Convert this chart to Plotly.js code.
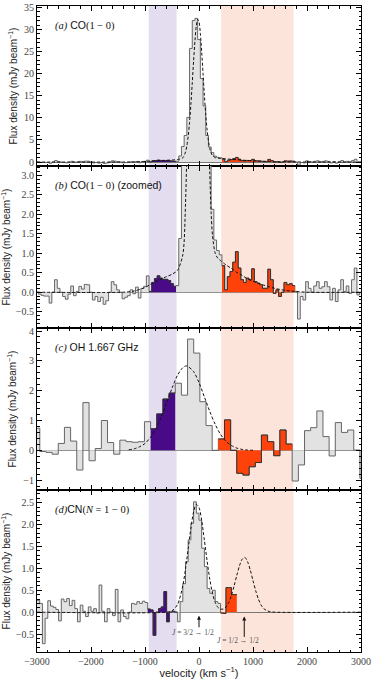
<!DOCTYPE html>
<html>
<head>
<meta charset="utf-8">
<script src="https://cdn.plot.ly/plotly-3.0.1.min.js"></script>
<style>
  body { margin: 0; background: #fff; }
  #graph { width: 374px; height: 679px; }
</style>
</head>
<body>
<div id="graph"></div>
<script>
// velocity windows used for the blue / red shading
var blueBand = [-930, -415];
var redBand = [410, 1750];

// CO(1-0): 50 km/s channels from -3000 to 3000
var coStart = -3000, coStep = 50;
var coFlux = [0.0, -0.05, -0.08, -0.1, -0.1, -0.28, 0.0, 0.32, 0.1, 0.0,
  -0.11, -0.18, -0.05, 0.16, -0.09, 0.02, 0.15, 0.08, 0.2, 0.19,
  0.0, -0.2, -0.11, -0.24, -0.13, -0.31, -0.22, 0.0, 0.27, 0.19,
  0.06, 0.0, -0.17, -0.13, -0.09, 0.06, -0.04, 0.13, -0.15, 0.1,
  0.15, 0.42, 0.02, 0.25, 0.35, 0.42, 0.36, 0.33, 0.33, 0.3,
  0.22, 0.15, 0.17, 1.38, 3.5, 6.0, 10.1, 25.7, 32.0, 32.5,
  27.7, 18.9, 12.7, 6.0, 3.4, 2.13, 1.34, 1.07, 0.96, 0.68,
  0.06, 0.4, 0.53, 0.77, 1.04, 0.62, 0.32, 0.25, 0.36, 0.32,
  0.6, 0.27, 0.23, 0.19, 0.1, 0.1, 0.59, 0.32, -0.03, 0.06,
  -0.11, 0.0, 0.25, 0.19, 0.22, 0.17, 0.02, -0.69, -0.11, -0.2,
  0.27, 0.1, 0.0, 0.16, 0.27, 0.1, 0.14, 0.27, 0.14, -0.2,
  0.1, -0.24, 0.06, 0.32, 0.02, 0.16, -0.03, 0.32, 0.62, -0.07,
  0.0];
var coFitVel = [-3000, -1400, -1200, -1000, -900, -800, -700, -600, -500, -400,
  -300, -250, -225, -200, -175, -150, -125, -100, -75, -50, -25, 0, 25, 50, 75,
  100, 125, 150, 175, 200, 225, 250, 300, 350, 400, 500, 600, 700, 800, 900,
  1000, 1100, 1200, 1300, 1400, 1500, 1700, 2000, 3000];
var coFitFlux = [0, 0, 0.03, 0.12, 0.2, 0.27, 0.34, 0.4, 0.46, 0.56,
  0.96, 2.27, 3.68, 5.87, 9.0, 13.06, 17.9, 22.9, 27.4, 30.8, 32.3, 31.7, 29.1, 24.9, 20.0,
  15.1, 10.7, 7.27, 4.74, 3.06, 2.03, 1.46, 1.0, 0.87, 0.81, 0.70, 0.61, 0.51, 0.43, 0.34,
  0.28, 0.23, 0.18, 0.14, 0.10, 0.07, 0.03, 0, 0];

// OH 1.667 GHz: 114 km/s channels
var ohStart = -3005, ohStep = 114;
var ohFlux = [0.74, -0.04, -0.07, -0.13, 0.23, 0.77, 0.31, -0.66, 1.6, -0.35,
  0.06, 1.0, 0.26, -0.13, 0.34, 0.29, 0.27, 0.29, 0.96, 0.72,
  1.22, 1.72, 1.92, 2.25, 1.85, 3.73, 3.26, 1.63, 0.83, 0.0,
  0.38, 1.02, 0.0, -0.77, -0.83, -0.55, -0.41, 0.51, 0.29, -0.18,
  0.68, 0.21, -1.03, -0.49, 0.66, 0.76, 1.32, 0.46, -0.19, 0.93,
  0.6, 0.68, 0.01, -0.94];
var ohFitVel = [-1300, -1200, -1100, -1000, -900, -800, -700, -600, -500, -400, -300, -230,
  -100, 0, 100, 200, 300, 400, 500, 600, 700, 800, 900, 1000];
var ohFitFlux = [0.02, 0.05, 0.12, 0.23, 0.43, 0.72, 1.12, 1.59, 2.08, 2.51, 2.77, 2.83,
  2.64, 2.27, 1.79, 1.30, 0.87, 0.53, 0.30, 0.16, 0.075, 0.03, 0.01, 0.0];

// CN(N=1-0): 50 km/s channels, band ends near 700 km/s
var cnStart = -2975, cnStep = 50;
var cnFlux = [0.27, 0.2, -0.72, -0.14, 0.26, 0.14, 0.11, 0.06, -0.2, 0.3,
  0.24, 0.31, 0.15, 0.27, 0.08, -0.22, 0.16, 0.02, -0.1, 0.12,
  0.02, 0.08, -0.02, 0.62, 0.02, -0.22, 0.08, 0.0, -0.08, 0.52,
  -0.22, 0.05, -0.1, -0.15, 0.0, 0.2, 0.18, 0.24, 0.2, 0.25,
  0.22, 0.07, 0.05, -0.53, 0.0, 0.08, 0.12, 0.47, -0.22, 0.0,
  0.02, 0.0, -0.22, 0.24, 0.65, 1.15, 1.65, 2.03, 2.52, 2.26,
  2.1, 1.46, 1.04, 0.54, 0.43, 0.5, 0.24, 0.2, -0.02, -0.03,
  0.56, 0.56, 0.4, 0.4];
var cnFitVel = [-3000, -600, -500, -400, -300, -250, -200, -150, -100, -50,
  0, 50, 100, 150, 200, 250, 300, 350, 400, 450,
  500, 550, 600, 650, 700, 750, 800, 850, 900, 950,
  1000, 1050, 1100, 1150, 1200, 1250, 1300, 1400, 3000];
var cnFitFlux = [0, 0, 0.03, 0.17, 0.60, 0.99, 1.45, 1.92, 2.29, 2.46,
  2.39, 2.09, 1.64, 1.17, 0.75, 0.43, 0.22, 0.11, 0.07, 0.07,
  0.12, 0.22, 0.38, 0.60, 0.84, 1.06, 1.21, 1.25, 1.15, 0.96,
  0.72, 0.49, 0.30, 0.16, 0.08, 0.04, 0.015, 0, 0];

// hyperfine markers in panel d
var cnLineVel = [0, 838];
var cnLineText = ['<i>J</i> = 3/2 \u2192 1/2', '<i>J</i> = 1/2 \u2192 1/2'];

var grayFill = 'rgb(226,226,226)';
var blueFill = 'rgb(72,10,135)';
var redFill = 'rgb(255,66,10)';
var blueShade = 'rgb(227,221,239)';
var redShade = 'rgb(253,228,218)';
var serif = 'Liberation Serif';
var sans = 'Liberation Sans';

function channels(start, step, n) {
    var c = [];
    for (var i = 0; i < n; i += 1) {
        c.push(start + step * i);
    }
    return c;
}

/* step histogram for the channels whose centre lies in [lo, hi] */
function stepTrace(vel, flux, step, lo, hi, axis, fill, line) {
    var xs = [], ys = [], last = -1;
    for (var i = 0; i < vel.length; i += 1) {
        if (vel[i] >= lo && vel[i] <= hi) {
            xs.push(vel[i] - step / 2);
            ys.push(flux[i]);
            last = i;
        }
    }
    xs.push(vel[last] + step / 2);
    ys.push(flux[last]);
    return {
        x: xs, y: ys, xaxis: 'x' + axis, yaxis: 'y' + axis,
        type: 'scatter', mode: 'lines',
        line: {shape: 'hv', color: line, width: 1},
        fill: 'tozeroy', fillcolor: fill, hoverinfo: 'skip'
    };
}

function fitTrace(vel, flux, axis) {
    return {
        x: vel, y: flux, xaxis: 'x' + axis, yaxis: 'y' + axis,
        type: 'scatter', mode: 'lines',
        line: {shape: 'spline', smoothing: 0.8, color: '#111', width: 1, dash: '3px,2px'}
    };
}

function panelTraces(vel, flux, step, fitV, fitF, axis) {
    return [
        stepTrace(vel, flux, step, -Infinity, Infinity, axis, grayFill, '#666'),
        stepTrace(vel, flux, step, blueBand[0], blueBand[1], axis, blueFill, '#333'),
        stepTrace(vel, flux, step, redBand[0], redBand[1], axis, redFill, '#333'),
        fitTrace(fitV, fitF, axis)
    ];
}

var coVel = channels(coStart, coStep, coFlux.length);
var ohVel = channels(ohStart, ohStep, ohFlux.length);
var cnVel = channels(cnStart, cnStep, cnFlux.length);

var data = [].concat(
    panelTraces(coVel, coFlux, coStep, coFitVel, coFitFlux, ''),
    panelTraces(coVel, coFlux, coStep, coFitVel, coFitFlux, '2'),
    panelTraces(ohVel, ohFlux, ohStep, ohFitVel, ohFitFlux, '3'),
    panelTraces(cnVel, cnFlux, cnStep, cnFitVel, cnFitFlux, '4')
);

function xAxis(anchor, labels) {
    var ax = {
        anchor: anchor, domain: [0, 1], range: [-3000, 3000],
        tick0: 0, dtick: 1000, ticks: 'inside', ticklen: 5, tickcolor: '#000',
        mirror: 'allticks', showline: true, linecolor: '#000', linewidth: 1,
        showgrid: false, zeroline: false, showticklabels: labels, tickformat: 'd',
        tickfont: {family: serif, size: 10, color: '#444'},
        minor: {ticks: 'inside', ticklen: 2.5, dtick: 200, tickcolor: '#000', showgrid: false}
    };
    if (labels) {
        ax.title = {text: 'velocity (km s<sup>\u22121</sup>)', font: {family: sans, size: 11, color: '#222'}, standoff: 2};
    }
    return ax;
}

function yAxis(anchor, domain, range, dtick, minor, fmt) {
    return {
        anchor: anchor, domain: domain, range: range,
        tick0: 0, dtick: dtick, ticks: 'inside', ticklen: 5, tickcolor: '#000',
        mirror: 'allticks', showline: true, linecolor: '#000', linewidth: 1,
        showgrid: false, zeroline: true, zerolinecolor: '#777', zerolinewidth: 1,
        tickformat: fmt, tickfont: {family: serif, size: 10, color: '#444'},
        minor: {ticks: 'inside', ticklen: 2.5, dtick: minor, tickcolor: '#000', showgrid: false},
        title: {text: 'Flux density (mJy beam<sup>\u22121</sup>)', font: {family: sans, size: 10, color: '#222'}, standoff: 4}
    };
}

function panelLabel(axis, text) {
    return {
        xref: 'x' + axis + ' domain', yref: 'y' + axis + ' domain',
        x: 0.048, y: 0.88, xanchor: 'left', yanchor: 'middle',
        text: text, showarrow: false,
        font: {family: sans, size: 10.5, color: '#111'}
    };
}

function sp(t) {
    return '<span style="font-family:' + serif + '">' + t + '</span>';
}

var annotations = [
    panelLabel('', sp('<i>(a)</i>') + ' CO' + sp('(1 \u2212 0)')),
    panelLabel('2', sp('<i>(b)</i>') + ' CO' + sp('(1 \u2212 0)') + ' (zoomed)'),
    panelLabel('3', sp('<i>(c)</i>') + ' OH 1.667 GHz'),
    panelLabel('4', sp('<i>(d)</i>') + 'CN' + sp('(<i>N</i> = 1 \u2212 0)'))
];

// vertical arrows at the two CN hyperfine lines, labels just below them
var cnHead = [-0.08, -0.1];
var cnTail = [-0.38, -0.6];
var cnTextVel = [-120, 720];
var cnTextY = [-0.47, -0.64];
for (var i = 0; i < cnLineVel.length; i += 1) {
    annotations.push({
        xref: 'x4', yref: 'y4', axref: 'x4', ayref: 'y4',
        x: cnLineVel[i], y: cnHead[i], ax: cnLineVel[i], ay: cnTail[i],
        showarrow: true, arrowhead: 2, arrowsize: 0.8, arrowwidth: 1, arrowcolor: '#111',
        text: ''
    });
    annotations.push({
        xref: 'x4', yref: 'y4', x: cnTextVel[i], y: cnTextY[i],
        xanchor: 'center', yanchor: 'middle', showarrow: false,
        text: cnLineText[i], font: {family: serif, size: 7.5, color: '#555'}
    });
}

var shapes = [
    {type: 'rect', xref: 'x', yref: 'paper', x0: blueBand[0], x1: blueBand[1], y0: 0, y1: 1,
     fillcolor: blueShade, line: {width: 0}, layer: 'below'},
    {type: 'rect', xref: 'x', yref: 'paper', x0: redBand[0], x1: redBand[1], y0: 0, y1: 1,
     fillcolor: redShade, line: {width: 0}, layer: 'below'}
];

var layout = {
    width: 374, height: 679,
    margin: {l: 37, r: 13, t: 6, b: 27},
    paper_bgcolor: '#fff', plot_bgcolor: 'rgba(0,0,0,0)',
    showlegend: false,
    xaxis: xAxis('y', false),
    xaxis2: xAxis('y2', false),
    xaxis3: xAxis('y3', false),
    xaxis4: xAxis('y4', true),
    yaxis: yAxis('x', [0.7523, 1], [-0.9, 35.3], 5, 1, 'd'),
    yaxis2: yAxis('x2', [0.5015, 0.7523], [-0.92, 3.24], 0.5, 0.1, '.1f'),
    yaxis3: yAxis('x3', [0.2508, 0.5015], [-1.33, 4.1], 1, 0.2, 'd'),
    yaxis4: yAxis('x4', [0, 0.2508], [-0.91, 2.79], 0.5, 0.1, '.1f'),
    shapes: shapes,
    annotations: annotations
};

Plotly.newPlot('graph', data, layout, {staticPlot: true});
</script>
</body>
</html>
